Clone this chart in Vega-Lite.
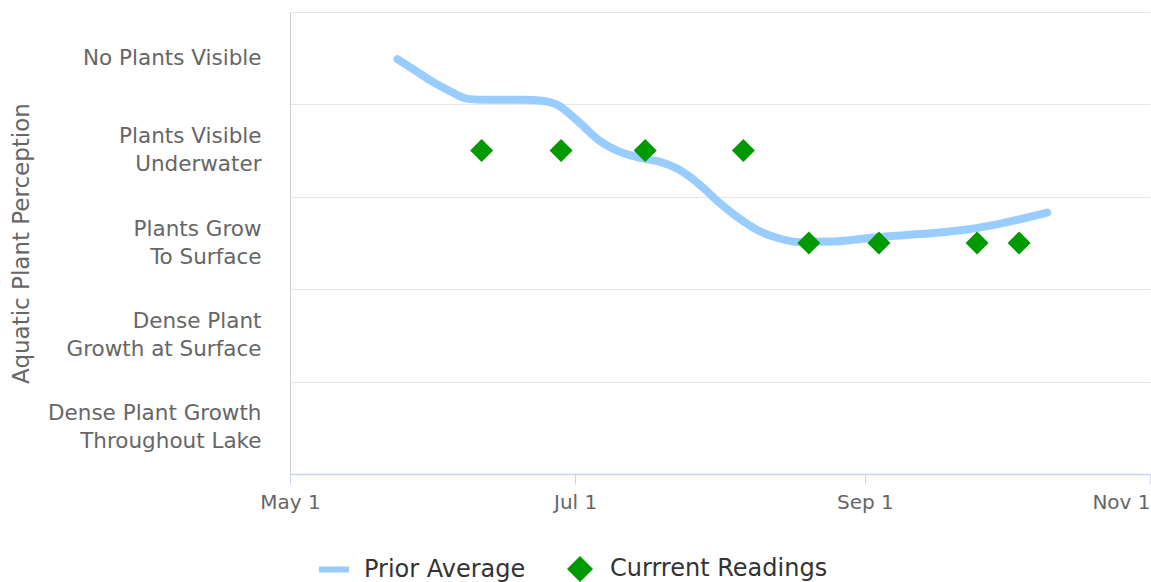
{
  "$schema": "https://vega.github.io/schema/vega-lite/v6.json",
  "width": 860,
  "height": 462,
  "autosize": {"type": "none"},
  "padding": {"left": 290, "top": 12, "right": 1, "bottom": 108},
  "background": "white",
  "config": {"view": {"stroke": null}, "font": "DejaVu Sans"},
  "datasets": {
    "prior": [
      {"date": "2023-05-24", "value": 1.01, "series": "Prior Average"},
      {"date": "2023-05-28", "value": 1.14, "series": "Prior Average"},
      {"date": "2023-05-31", "value": 1.24, "series": "Prior Average"},
      {"date": "2023-06-04", "value": 1.35, "series": "Prior Average"},
      {"date": "2023-06-08", "value": 1.44, "series": "Prior Average"},
      {"date": "2023-06-12", "value": 1.45, "series": "Prior Average"},
      {"date": "2023-06-16", "value": 1.45, "series": "Prior Average"},
      {"date": "2023-06-20", "value": 1.45, "series": "Prior Average"},
      {"date": "2023-06-24", "value": 1.46, "series": "Prior Average"},
      {"date": "2023-06-27", "value": 1.5, "series": "Prior Average"},
      {"date": "2023-07-02", "value": 1.7, "series": "Prior Average"},
      {"date": "2023-07-06", "value": 1.885, "series": "Prior Average"},
      {"date": "2023-07-10", "value": 2.0, "series": "Prior Average"},
      {"date": "2023-07-15", "value": 2.08, "series": "Prior Average"},
      {"date": "2023-07-19", "value": 2.12, "series": "Prior Average"},
      {"date": "2023-07-23", "value": 2.2, "series": "Prior Average"},
      {"date": "2023-07-27", "value": 2.34, "series": "Prior Average"},
      {"date": "2023-08-01", "value": 2.57, "series": "Prior Average"},
      {"date": "2023-08-05", "value": 2.73, "series": "Prior Average"},
      {"date": "2023-08-09", "value": 2.86, "series": "Prior Average"},
      {"date": "2023-08-13", "value": 2.94, "series": "Prior Average"},
      {"date": "2023-08-18", "value": 2.99, "series": "Prior Average"},
      {"date": "2023-08-25", "value": 2.985, "series": "Prior Average"},
      {"date": "2023-09-04", "value": 2.935, "series": "Prior Average"},
      {"date": "2023-09-15", "value": 2.895, "series": "Prior Average"},
      {"date": "2023-09-22", "value": 2.86, "series": "Prior Average"},
      {"date": "2023-09-30", "value": 2.79, "series": "Prior Average"},
      {"date": "2023-10-10", "value": 2.67, "series": "Prior Average"}
    ],
    "current": [
      {"date": "2023-06-11", "value": 2, "series": "Currrent Readings"},
      {"date": "2023-06-28", "value": 2, "series": "Currrent Readings"},
      {"date": "2023-07-16", "value": 2, "series": "Currrent Readings"},
      {"date": "2023-08-06", "value": 2, "series": "Currrent Readings"},
      {"date": "2023-08-20", "value": 3, "series": "Currrent Readings"},
      {"date": "2023-09-04", "value": 3, "series": "Currrent Readings"},
      {"date": "2023-09-25", "value": 3, "series": "Currrent Readings"},
      {"date": "2023-10-04", "value": 3, "series": "Currrent Readings"}
    ]
  },
  "encoding": {
    "x": {
      "field": "date",
      "type": "temporal",
      "scale": {
        "type": "utc",
        "domain": [
          {"year": 2023, "month": 5, "date": 1, "utc": true},
          {"year": 2023, "month": 11, "date": 1, "utc": true}
        ],
        "nice": false
      },
      "axis": {
        "title": null,
        "values": [
          {"year": 2023, "month": 5, "date": 1, "utc": true},
          {"year": 2023, "month": 7, "date": 1, "utc": true},
          {"year": 2023, "month": 9, "date": 1, "utc": true},
          {"year": 2023, "month": 11, "date": 1, "utc": true}
        ],
        "labelExpr": "utcFormat(datum.value, '%b %-d')",
        "grid": false,
        "domainColor": "#ccd6eb",
        "domainWidth": 1.5,
        "tickColor": "#ccd6eb",
        "tickSize": 10,
        "labelFont": "DejaVu Sans",
        "labelFontSize": 20,
        "labelColor": "#666666",
        "labelPadding": 8,
        "labelFlush": false,
        "labelOverlap": false,
        "labelBound": false,
        "labelAlign": {"condition": {"test": "utcmonth(datum.value) === 10", "value": "right"}, "value": "center"}
      }
    },
    "y": {
      "field": "value",
      "type": "quantitative",
      "scale": {"domain": [0.5, 5.5], "reverse": true, "nice": false, "zero": false},
      "axis": {
        "title": "Aquatic Plant Perception",
        "values": [0.5, 1, 1.5, 2, 2.5, 3, 3.5, 4, 4.5, 5, 5.5],
        "grid": true,
        "gridColor": "#e6e6e6",
        "gridOpacity": {"condition": {"test": "datum.value % 1 !== 0", "value": 1}, "value": 0},
        "ticks": false,
        "tickSize": 0,
        "domainColor": "#cccccc",
        "labelExpr": "datum.value == 1 ? 'No Plants Visible' : datum.value == 2 ? ['Plants Visible', 'Underwater'] : datum.value == 3 ? ['Plants Grow', 'To Surface'] : datum.value == 4 ? ['Dense Plant', 'Growth at Surface'] : datum.value == 5 ? ['Dense Plant Growth', 'Throughout Lake'] : ''",
        "labelFont": "DejaVu Sans",
        "labelFontSize": 21.5,
        "labelColor": "#666666",
        "labelPadding": 29,
        "labelLineHeight": 28,
        "labelLimit": 400,
        "labelBaseline": "middle",
        "labelOffset": {"condition": {"test": "datum.value == 1", "value": 0}, "value": -14},
        "labelOverlap": false,
        "labelFlush": false,
        "labelBound": false,
        "titleFont": "DejaVu Sans",
        "titleFontSize": 23,
        "titleFontWeight": "normal",
        "titleColor": "#666666",
        "titlePadding": 57
      }
    },
    "color": {
      "field": "series",
      "type": "nominal",
      "scale": {"domain": ["Prior Average", "Currrent Readings"], "range": ["#99ccff", "#009900"]},
      "legend": {
        "orient": "none",
        "legendX": 32,
        "legendY": 545,
        "direction": "horizontal",
        "title": null,
        "padding": 0,
        "labelFont": "DejaVu Sans",
        "labelFontSize": 24,
        "labelLimit": 400,
        "labelColor": "#333333",
        "symbolSize": 900,
        "labelOffset": 18,
        "columnPadding": 41,
        "encode": {
          "symbols": {
            "update": {
              "shape": {"signal": "datum.value === 'Prior Average' ? 'stroke' : 'diamond'"},
              "size": {"signal": "datum.value === 'Prior Average' ? 900 : 676"},
              "strokeWidth": {"signal": "datum.value === 'Prior Average' ? 6 : 0"},
              "stroke": {"signal": "datum.value === 'Prior Average' ? '#99ccff' : 'transparent'"},
              "fill": {"signal": "datum.value === 'Prior Average' ? 'transparent' : '#009900'"},
              "opacity": {"value": 1},
              "fillOpacity": {"value": 1},
              "strokeOpacity": {"value": 1}
            }
          }
        }
      }
    }
  },
  "layer": [
    {
      "data": {"name": "prior"},
      "mark": {"type": "line", "interpolate": "monotone", "strokeWidth": 8, "strokeCap": "round", "strokeJoin": "round"}
    },
    {
      "data": {"name": "current"},
      "mark": {"type": "point", "shape": "diamond", "filled": true, "size": 530, "opacity": 1}
    }
  ]
}
